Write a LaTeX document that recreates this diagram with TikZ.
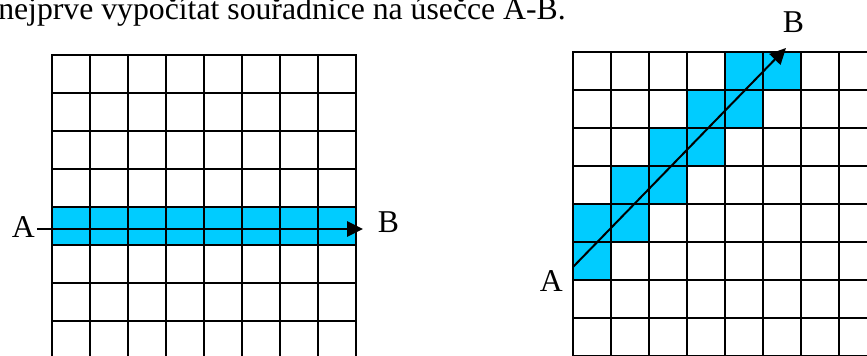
\documentclass[tikz,border=0pt]{standalone}
\usepackage{fontspec}
\setmainfont{Liberation Serif}
\usetikzlibrary{arrows.meta}
\definecolor{cellblue}{RGB}{0,204,255}

\begin{document}
\begin{tikzpicture}[x=0.75pt,y=-0.75pt,
  gridline/.style={line width=1.5pt,line cap=rect,black},
  vector/.style={line width=1.5pt,-{Triangle[length=12pt,width=11.5pt]}},
  lbl/.style={inner sep=0pt,anchor=base west,font=\fontsize{23.8}{28}\selectfont}]
\clip (0,0) rectangle (867,356);
\node[lbl] (title) at (-2,20) {nejprve vypočítat souřadnice na úsečce A-B.};

% left grid, horizontal line A-B
\fill[cellblue] (52,207) rectangle (356,245);
\foreach \i in {0,...,8}
  \draw[gridline] (52+38*\i,55) -- (52+38*\i,362);
\foreach \j in {0,...,7}
  \draw[gridline] (52,55+38*\j) -- (356,55+38*\j);
\node[lbl] (la) at (11.5,237) {A};
\node[lbl] (lb) at (377.5,232) {B};
\coordinate (lstart) at (37,229);
\coordinate (lend) at (363,229);
\draw[vector] (lstart) -- (lend);

% right grid, diagonal line A-B
\foreach \c/\r in {4/0,5/0,3/1,4/1,2/2,3/2,1/3,2/3,0/4,1/4,0/5}
  \fill[cellblue] (573+38*\c,52+38*\r) rectangle +(38,38);
\foreach \i in {0,...,8}
  \draw[gridline] (573+38*\i,52) -- (573+38*\i,362);
\foreach \j in {0,...,8}
  \draw[gridline] (573,52+38*\j) -- (880,52+38*\j);
\node[lbl] (ra) at (539.5,291) {A};
\node[lbl] (rb) at (782.5,33) {B};
\coordinate (rstart) at (573,267);
\coordinate (rend) at (786,48);
\draw[vector] (rstart) -- (rend);
\end{tikzpicture}
\end{document}
